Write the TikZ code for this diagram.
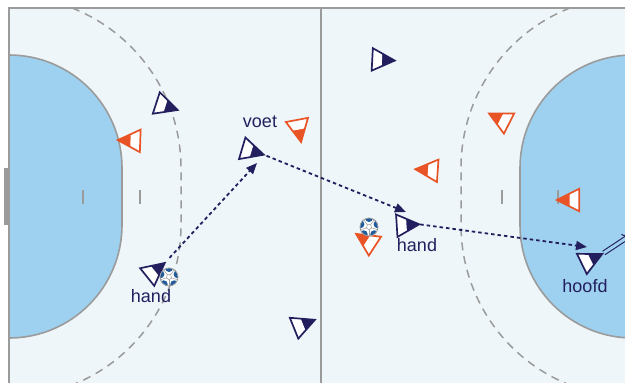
\documentclass[tikz,border=0pt]{standalone}
\usepackage{fontspec}
\setmainfont{Liberation Sans}
\usetikzlibrary{arrows.meta}
\definecolor{navy}{HTML}{231F5E}
\definecolor{orng}{HTML}{E85425}
\definecolor{courtbg}{HTML}{EEF6FA}
\definecolor{areabg}{HTML}{9ED1EF}
\definecolor{linegray}{HTML}{9B9B9B}
\definecolor{ballblue}{HTML}{1E5C9E}
\tikzset{
  x=1pt, y=1pt,
  courtline/.style={linegray, line width=1.6pt},
  freeline/.style={linegray, line width=1.5pt, dash pattern=on 8pt off 6pt},
  passline/.style={navy, line width=1.8pt, dash pattern=on 3.5pt off 3pt, -{Triangle[length=11pt,width=9pt]}},
  shotline/.style={navy, line width=1.1pt, double=areabg, double distance=3pt, -{Implies}},
  lbl/.style={text=navy, inner sep=0pt, font=\fontsize{18}{20}\selectfont},
  pics/player/.style={code={
    \fill[#1] (11.25,0) -- (-11.25,11.25) -- (-11.25,-11.25) -- cycle;
    \fill[white] (-11.25,11.25) -- (-1.5,6.4) -- (-1.5,-6.4) -- (-11.25,-11.25) -- cycle;
    \draw[#1, line width=1.7pt, line join=miter] (11.25,0) -- (-11.25,11.25) -- (-11.25,-11.25) -- cycle;
    \coordinate (-tip) at (11.25,0);
  }},
  pics/ball/.style={code={
    \fill[white] (0,0) circle[radius=9];
    \begin{scope}
      \clip (0,0) circle[radius=9];
      \foreach \a in {18,90,162,234,306} {
        \fill[ballblue] (\a:9) circle[radius=4];
        \draw[linegray, line width=0.5pt] (\a+36:2.8) -- (\a+36:9);
      }
      \draw[linegray, line width=0.5pt] (54:2.8) -- (126:2.8) -- (198:2.8) -- (270:2.8) -- (342:2.8) -- cycle;
    \end{scope}
    \draw[linegray, line width=0.8pt] (0,0) circle[radius=9];
  }}
}
\begin{document}
\begin{tikzpicture}
\useasboundingbox (0,0) rectangle (625,-383);
\fill[white] (0,0) rectangle (625,-383);
% court
\fill[courtbg] (9,-8) rectangle (645,-395);
% goal areas
\fill[areabg] (9,-55) arc[start angle=90, end angle=0, radius=113] -- (122,-225)
  arc[start angle=0, end angle=-90, radius=113] -- cycle;
\draw[courtline] (9,-55) arc[start angle=90, end angle=0, radius=113] -- (122,-225)
  arc[start angle=0, end angle=-90, radius=113];
\fill[areabg] (633,-55) arc[start angle=90, end angle=180, radius=113] -- (520,-225)
  arc[start angle=180, end angle=270, radius=113] -- cycle;
\draw[courtline] (633,-55) arc[start angle=90, end angle=180, radius=113] -- (520,-225)
  arc[start angle=180, end angle=270, radius=113];
% free throw lines
\begin{scope}
  \clip (9,-8) rectangle (645,-395);
  \draw[freeline] (9,-168) ++(68.5:172) arc[start angle=68.5, end angle=0, radius=172] -- (181,-225)
    arc[start angle=0, end angle=-70, radius=172];
  \draw[freeline] (633,-168) ++(111.5:172) arc[start angle=111.5, end angle=180, radius=172] -- (461,-225)
    arc[start angle=180, end angle=250, radius=172];
\end{scope}
% ticks
\draw[courtline, line width=1.3pt] (83,-190) -- (83,-204);
\draw[courtline, line width=1.3pt] (140,-190) -- (140,-204);
\draw[courtline, line width=1.3pt] (502,-190) -- (502,-204);
\draw[courtline, line width=1.3pt] (558,-190) -- (558,-204);
% borders
\draw[courtline] (645,-8) -- (9,-8) -- (9,-395);
\draw[courtline] (321,-8) -- (321,-395);
\fill[linegray] (3.5,-168) rectangle (9,-225);
% players
\pic[rotate=-18] (p1) at (167,-106.5) {player=navy};
\pic[rotate=178] (p2) at (129,-140.5) {player=orng};
\pic[rotate=-16.6] (p3) at (253,-151.5) {player=navy};
\pic[rotate=-79.4] (p4) at (299,-131) {player=orng};
\pic[rotate=38.7] (p5) at (156,-270) {player=navy};
\pic[rotate=22] (p6) at (304.5,-324) {player=navy};
\pic[rotate=-3] (p7) at (383.5,-60) {player=navy};
\pic[rotate=153] (p8) at (499,-118.5) {player=orng};
\pic[rotate=176] (p9) at (426.5,-170) {player=orng};
\pic[rotate=180] (p10) at (568,-200) {player=orng};
\pic[rotate=147] (p11) at (365.5,-240) {player=orng};
\pic[rotate=3.6] (p12) at (408,-225) {player=navy};
\pic[rotate=26] (p13) at (592,-259) {player=navy};
% balls
\pic (b1) at (169,-277) {ball};
\pic (b2) at (369,-227) {ball};
% labels
\node[lbl] (lvoet) at (260,-122) {voet};
\node[lbl] (lhand1) at (151,-296) {hand};
\node[lbl] (lhand2) at (417,-245) {hand};
\node[lbl] (lhoofd) at (585,-286) {hoofd};
% passes
\coordinate (a1e) at (257,-163);
\coordinate (a2e) at (406,-212);
\coordinate (a3e) at (587,-247);
\coordinate (shotend) at (631,-235);
\draw[passline, shorten <=7pt] (p5-tip) -- (a1e);
\draw[passline, shorten <=3pt] (p3-tip) -- (a2e);
\draw[passline, shorten <=1pt] (p12-tip) -- (a3e);
\draw[shotline, shorten <=2pt] (p13-tip) -- (shotend);
\end{tikzpicture}
\end{document}
